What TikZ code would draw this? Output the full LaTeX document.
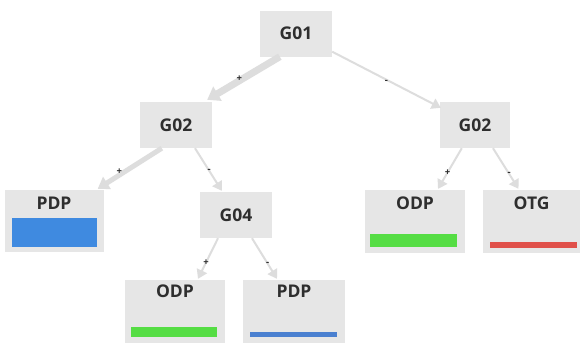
\documentclass[tikz,border=0pt]{standalone}
\usepackage{fontspec}
\setmainfont{Open Sans}
\usetikzlibrary{arrows.meta}
\definecolor{boxfill}{HTML}{E6E6E6}
\definecolor{edgecol}{HTML}{DDDDDD}
\definecolor{txt}{HTML}{2E2E2E}
\definecolor{pdpblue}{HTML}{3F8AE0}
\definecolor{pdpblue2}{HTML}{4A80D0}
\definecolor{odpgreen}{HTML}{55DD44}
\definecolor{otgred}{HTML}{E0504A}
\tikzset{
  gbox/.style={fill=boxfill, draw=none, minimum width=72pt, minimum height=46pt, inner sep=0pt,
    font=\fontsize{17.5}{19}\selectfont\bfseries, text=txt},
  leaf/.style={fill=boxfill, draw=none, minimum width=#1, minimum height=63pt, inner sep=0pt},
  leaftxt/.style={font=\fontsize{17.5}{19}\selectfont\bfseries, text=txt, inner sep=0pt},
  edge/.style={draw=edgecol, line width=#1, -{Triangle[width=11pt,length=9pt]}},
  edge/.default=2pt,
  sign/.style={font=\fontsize{9.5}{10}\selectfont\bfseries, text=txt, inner sep=0pt}
}
\begin{document}
\begin{tikzpicture}[x=1pt,y=-1pt]
\useasboundingbox (0,0) rectangle (580,343);
\fill[white] (0,0) rectangle (580,343);
% nodes
\node[gbox] (g01) at (296,33.5) {G01};
\node[gbox] (g02a) at (176,125) {G02};
\node[gbox, minimum width=70pt] (g02b) at (475,125) {G02};
\node[gbox] (g04) at (236,215) {G04};
\node[leaf=99pt, minimum height=62pt] (pdp1) at (54,221) {};
\node[leaf=100pt] (odp1) at (415,221.5) {};
\node[leaf=97pt] (otg) at (531.5,221.5) {};
\node[leaf=100pt] (odp2) at (175,311.5) {};
\node[leaf=102pt] (pdp2) at (294,311.5) {};
\node[leaftxt] (pdp1t) at ([yshift=-13pt]pdp1.north) {PDP};
\node[leaftxt] (odp1t) at ([yshift=-13pt]odp1.north) {ODP};
\node[leaftxt] (otgt) at ([yshift=-13pt]otg.north) {OTG};
\node[leaftxt] (odp2t) at ([yshift=-11pt]odp2.north) {ODP};
\node[leaftxt] (pdp2t) at ([yshift=-11pt]pdp2.north) {PDP};
% bars
\fill[pdpblue] (12,218) rectangle (97,247);
\fill[odpgreen] (370,234) rectangle (457,247);
\fill[otgred] (490,242) rectangle (577,248);
\fill[odpgreen] (131,327) rectangle (217,337);
\fill[pdpblue2] (250,332) rectangle (337,337);
% edges
\draw[edge=7pt, -{Triangle[width=16pt,length=12pt]}] ([xshift=20pt]g01.south west) -- ([xshift=-5pt,yshift=2pt]g02a.north east)
  node[sign, pos=0.5, left=-2pt] (s1) {+};
\draw[edge] ([yshift=5pt]g01.south east) -- ([xshift=1pt,yshift=-6pt]g02b.north west)
  node[sign, pos=0.5, below=0pt] (s2) {-};
\draw[edge=5pt, -{Triangle[width=14pt,length=11pt]}] ([xshift=22pt]g02a.south west) -- ([xshift=-6pt,yshift=1pt]pdp1.north east)
  node[sign, pos=0.58, left=0pt] (s3) {+};
\draw[edge] ([xshift=19pt]g02a.south) -- ([xshift=22pt,yshift=1pt]g04.north west)
  node[sign, pos=0.53] (s4) {-};
\draw[edge] ([xshift=22pt]g02b.south west) -- ([xshift=23pt,yshift=1pt]odp1.north)
  node[sign, pos=0.6] (s5) {+};
\draw[edge] ([xshift=18pt]g02b.south) -- ([xshift=-13pt,yshift=1pt]otg.north)
  node[sign, pos=0.63] (s6) {-};
\draw[edge] ([xshift=-18pt]g04.south) -- ([xshift=23pt,yshift=1pt]odp2.north)
  node[sign, pos=0.6] (s7) {+};
\draw[edge] ([xshift=16pt]g04.south) -- ([xshift=-17pt,yshift=1pt]pdp2.north)
  node[sign, pos=0.63] (s8) {-};
\end{tikzpicture}
\end{document}
